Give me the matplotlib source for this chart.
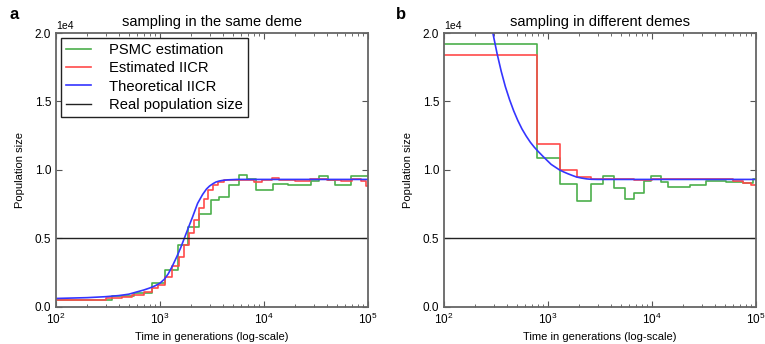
import numpy as np
import matplotlib
matplotlib.use('Agg')
import matplotlib.pyplot as plt

plt.rcParams['font.family'] = ['Liberation Sans', 'DejaVu Sans']

# values in units of 1e4
# --- panel a: sampling in the same deme ---
a_psmc_t = [100, 345, 566, 836, 1122, 1475, 1850, 2386, 3090, 3716, 4645, 5700, 6810,
            8370, 12100, 16900, 28300, 34000, 40900, 48500, 68700, 100000]
a_psmc_v = [0.05, 0.08, 0.097, 0.17, 0.267, 0.45, 0.58, 0.68, 0.78, 0.80, 0.886, 0.966, 0.93,
            0.85, 0.90, 0.886, 0.92, 0.958, 0.925, 0.886, 0.955, 0.955]

a_est_t = [100, 300, 431, 537, 697, 836, 967, 1122, 1303, 1515, 1714, 1914, 2137, 2386,
           2665, 2869, 3205, 3580, 4150, 6000, 8000, 9500, 12000, 14000, 20000, 28000,
           40000, 55000, 70000, 85000, 95000, 100000]
a_est_v = [0.05, 0.06, 0.07, 0.085, 0.11, 0.14, 0.16, 0.22, 0.30, 0.36, 0.45, 0.54, 0.63, 0.72,
           0.79, 0.85, 0.886, 0.91, 0.927, 0.925, 0.91, 0.925, 0.94, 0.925, 0.92, 0.93,
           0.925, 0.915, 0.935, 0.92, 0.88, 0.88]

a_th_t = [100, 200, 300, 400, 500, 600, 700, 800, 900, 1000, 1100, 1200, 1322, 1450, 1580,
          1714, 1870, 2056, 2300, 2570, 2800, 3000, 3250, 3450, 3700, 4000, 4500, 5500, 100000]
a_th_v = [0.06, 0.066, 0.073, 0.081, 0.091, 0.108, 0.122, 0.137, 0.153, 0.172, 0.20, 0.24,
          0.30, 0.365, 0.43, 0.50, 0.575, 0.655, 0.755, 0.82, 0.86, 0.882, 0.90, 0.911, 0.918,
          0.923, 0.927, 0.93, 0.93]

# --- panel b: sampling in different demes ---
b_psmc_t = [100, 790, 1300, 1920, 2570, 3370, 4300, 5460, 6680, 8380, 9870, 12100, 14100,
            23000, 33300, 52000, 75000, 93000, 100000]
b_psmc_v = [1.92, 1.09, 0.90, 0.77, 0.90, 0.953, 0.866, 0.784, 0.83, 0.917, 0.958, 0.91, 0.878,
            0.886, 0.92, 0.91, 0.905, 0.93, 0.93]

b_est_t = [100, 790, 1300, 1920, 2570, 5000, 6700, 8400, 10000, 12000, 20000, 35000, 60000,
           75000, 90000, 100000]
b_est_v = [1.84, 1.19, 1.0, 0.946, 0.93, 0.93, 0.925, 0.925, 0.93, 0.93, 0.93, 0.93, 0.915,
           0.905, 0.89, 0.89]

b_th_t = [269, 295, 324, 355, 389, 427, 468, 513, 562, 617, 676, 741, 813, 891, 977, 1072,
          1175, 1288, 1413, 1549, 1700, 1875, 2100, 2350, 2600, 3000, 100000]
b_th_v = [2.175, 2.0, 1.849, 1.72, 1.608, 1.513, 1.431, 1.36, 1.299, 1.247, 1.202, 1.164,
          1.131, 1.10, 1.07, 1.04, 1.02, 1.0, 0.985, 0.972, 0.96, 0.948, 0.94, 0.934, 0.931,
          0.93, 0.93]

real_size = 0.5
scale = 1e4

green = '#4caf4c'
red = '#ff4a4a'
blue = '#3535ff'


def draw(ax, psmc_t, psmc_v, est_t, est_v, th_t, th_v, title):
    ax.step(psmc_t, np.array(psmc_v) * scale, where='post', color=green, lw=1.2,
            label='PSMC estimation')
    ax.step(est_t, np.array(est_v) * scale, where='post', color=red, lw=1.2,
            label='Estimated IICR')
    ax.plot(th_t, np.array(th_v) * scale, color=blue, lw=1.2, label='Theoretical IICR')
    ax.axhline(real_size * scale, color='#222222', lw=1.0, label='Real population size')
    ax.set_xscale('log')
    ax.set_xlim(100, 100000)
    ax.set_ylim(0, 20000)
    ax.set_yticks([0, 5000, 10000, 15000, 20000])
    ax.ticklabel_format(style='sci', axis='y', scilimits=(0, 0))
    ax.yaxis.get_offset_text().set_fontsize(7.5)
    ax.set_title(title, fontsize=10.5, pad=5)
    ax.set_xlabel('Time in generations (log-scale)', fontsize=8, labelpad=4)
    ax.set_ylabel('Population size', fontsize=8, labelpad=7)
    ax.tick_params(which='both', direction='in', top=True, right=True,
                   labelsize=8.5, color='#555555')
    ax.tick_params(which='major', length=4)
    ax.tick_params(which='minor', length=2)
    for s in ax.spines.values():
        s.set_color('#666666')
        s.set_linewidth(1.3)


fig = plt.figure(figsize=(7.65, 3.44), dpi=100)
ax1 = fig.add_axes([0.0732, 0.1085, 0.4078, 0.7955])
ax2 = fig.add_axes([0.5804, 0.1085, 0.4078, 0.7955])

draw(ax1, a_psmc_t, a_psmc_v, a_est_t, a_est_v, a_th_t, a_th_v, 'sampling in the same deme')
draw(ax2, b_psmc_t, b_psmc_v, b_est_t, b_est_v, b_th_t, b_th_v, 'sampling in different demes')

leg = ax1.legend(loc='upper left', fontsize=10.6, handlelength=1.7, handletextpad=1.2,
                 labelspacing=0.28, borderpad=0.35, borderaxespad=0.35, fancybox=False,
                 framealpha=1)
leg.get_frame().set_edgecolor('#222222')
leg.get_frame().set_linewidth(1.0)

fig.text(0.012, 0.946, 'a', fontsize=12, fontweight='bold')
fig.text(0.518, 0.946, 'b', fontsize=12, fontweight='bold')

fig.savefig('out.png', dpi=100)
